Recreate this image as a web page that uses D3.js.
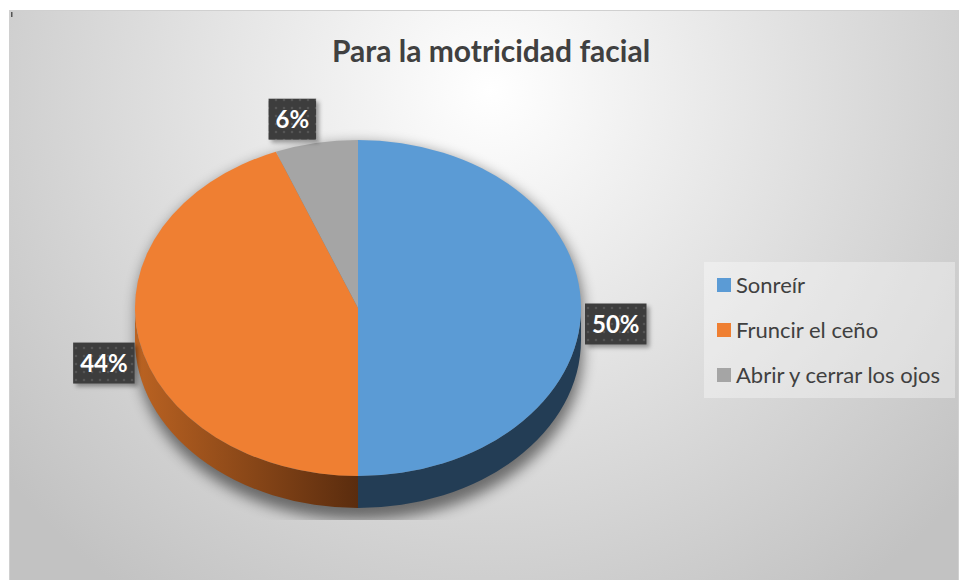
<!DOCTYPE html>
<html lang="es">
<head>
<meta charset="UTF-8">
<title>Para la motricidad facial</title>
<script src="https://d3js.org/d3.v7.min.js"></script>
<style>
    body { margin: 0; background: #fff; font-family: Lato, "Open Sans", sans-serif; }
    #chart { position: absolute; left: 0; top: 0; }
</style>
</head>
<body>
<div id="chart"></div>
<script>
const categories = ["Sonreír", "Fruncir el ceño", "Abrir y cerrar los ojos"];
const values = [50, 44, 6];
const labels = ["50%", "44%", "6%"];
const colors = ["#5b9bd5", "#ef7f32", "#a5a5a5"];
const sideColors = ["#233d55", "url(#orangeSide)", "#6b6b6b"];

const W = 961, H = 580;
const cx = 358, cy = 308, rx = 223, ry = 168, depth = 32;

const svg = d3.select("#chart").append("svg")
    .attr("width", W).attr("height", H);

const defs = svg.append("defs");

const bg = defs.append("radialGradient").attr("id", "bg")
    .attr("gradientUnits", "userSpaceOnUse")
    .attr("cx", 490).attr("cy", 90).attr("r", 620);
bg.append("stop").attr("offset", "0%").attr("stop-color", "#ffffff");
bg.append("stop").attr("offset", "100%").attr("stop-color", "#c2c2c2");

const og = defs.append("linearGradient").attr("id", "orangeSide")
    .attr("gradientUnits", "userSpaceOnUse")
    .attr("x1", cx - rx).attr("x2", cx).attr("y1", 0).attr("y2", 0);
og.append("stop").attr("offset", "0%").attr("stop-color", "#bb6322");
og.append("stop").attr("offset", "100%").attr("stop-color", "#5a2c0e");

const blur = defs.append("filter").attr("id", "pieShadow")
    .attr("x", "-20%").attr("y", "-20%").attr("width", "140%").attr("height", "140%");
blur.append("feGaussianBlur").attr("stdDeviation", 7);

const lblShadow = defs.append("filter").attr("id", "lblShadow")
    .attr("x", "-30%").attr("y", "-30%").attr("width", "160%").attr("height", "160%");
lblShadow.append("feDropShadow").attr("dx", 3).attr("dy", 3)
    .attr("stdDeviation", 2).attr("flood-color", "#000").attr("flood-opacity", 0.35);

const pat = defs.append("pattern").attr("id", "dots")
    .attr("patternUnits", "userSpaceOnUse").attr("width", 8).attr("height", 8);
pat.append("rect").attr("width", 8).attr("height", 8).attr("fill", "#3d3d3d");
pat.append("circle").attr("cx", 4).attr("cy", 4).attr("r", 1.3).attr("fill", "#555555");

defs.append("clipPath").attr("id", "plotClip")
    .append("rect").attr("x", 0).attr("y", 0).attr("width", W).attr("height", 520);

// chart area
svg.append("rect")
    .attr("x", 9.5).attr("y", 10.5).attr("width", 949).attr("height", 580)
    .attr("fill", "url(#bg)").attr("stroke", "#d0d0d0");
svg.append("rect").attr("x", 11).attr("y", 12).attr("width", 1.5).attr("height", 5).attr("fill", "#555");

svg.append("text")
    .attr("x", 491).attr("y", 62)
    .attr("text-anchor", "middle")
    .attr("font-size", 30).attr("font-weight", "bold")
    .attr("fill", "#404040")
    .text("Para la motricidad facial");

const pie = d3.pie().sort(null).value(d => d)(values);

const pt = (a, dy) => [cx + rx * Math.sin(a), cy - ry * Math.cos(a) + dy];

// shadow
const sh = svg.append("g").attr("clip-path", "url(#plotClip)")
    .append("g").attr("filter", "url(#pieShadow)").attr("opacity", 0.5);
sh.append("path")
    .attr("d", () => {
        const l = pt(-Math.PI / 2, 0), r = pt(Math.PI / 2, 0);
        const lb = pt(-Math.PI / 2, depth + 8), rb = pt(Math.PI / 2, depth + 8);
        return `M${l}A${rx},${ry} 0 0 1 ${r}L${rb}A${rx},${ry} 0 0 1 ${lb}Z`;
    })
    .attr("transform", "translate(2,4)")
    .attr("fill", "#000");

// side walls (front half only)
const sides = svg.append("g");
pie.forEach((d, i) => {
    const a0 = Math.max(d.startAngle, Math.PI / 2);
    const a1 = Math.min(d.endAngle, 3 * Math.PI / 2);
    if (a1 <= a0) return;
    const p0 = pt(a0, 0), p1 = pt(a1, 0), q1 = pt(a1, depth), q0 = pt(a0, depth);
    sides.append("path")
        .attr("d", `M${p0}A${rx},${ry} 0 0 1 ${p1}L${q1}A${rx},${ry} 0 0 0 ${q0}Z`)
        .attr("fill", sideColors[i]);
});

// top face
const arc = d3.arc().innerRadius(0).outerRadius(rx);
svg.append("g")
    .attr("transform", `translate(${cx},${cy}) scale(1,${ry / rx})`)
    .selectAll("path")
    .data(pie)
    .join("path")
    .attr("d", arc)
    .attr("fill", (d, i) => colors[i]);

// data labels (outside end)
const lblG = svg.append("g");
pie.forEach((d, i) => {
    const a = (d.startAngle + d.endAngle) / 2;
    const t = lblG.append("text")
        .attr("font-size", 24).attr("font-weight", "bold")
        .attr("fill", "#fff").attr("text-anchor", "middle")
        .text(labels[i]);
    const bw = t.node().getComputedTextLength() + 14, bh = 41;
    const s = Math.sin(a), sx = Math.sign(s) * Math.pow(Math.abs(s), 0.8);
    const x = cx + (rx + bw / 2 + 4) * sx;
    const y = cy - (ry + bh / 2 + 4) * Math.cos(a) + depth * 0.5 * (1 - Math.cos(a));
    lblG.insert("rect", () => t.node())
        .attr("x", x - bw / 2).attr("y", y - bh / 2)
        .attr("width", bw).attr("height", bh)
        .attr("fill", "url(#dots)").attr("filter", "url(#lblShadow)");
    t.attr("x", x).attr("y", y + 8.5);
});

// legend
const lg = svg.append("g");
lg.append("rect")
    .attr("x", 704).attr("y", 262).attr("width", 251).attr("height", 136)
    .attr("fill", "#ffffff").attr("fill-opacity", 0.35);
const item = lg.selectAll("g.item")
    .data(categories)
    .join("g")
    .attr("class", "item")
    .attr("transform", (d, i) => `translate(717,${285 + i * 45})`);
item.append("rect")
    .attr("x", 0).attr("y", -7).attr("width", 14).attr("height", 14)
    .attr("fill", (d, i) => colors[i]);
item.append("text")
    .attr("x", 19).attr("y", 7.5)
    .attr("font-size", 22).attr("fill", "#404040")
    .text(d => d);
</script>
</body>
</html>
